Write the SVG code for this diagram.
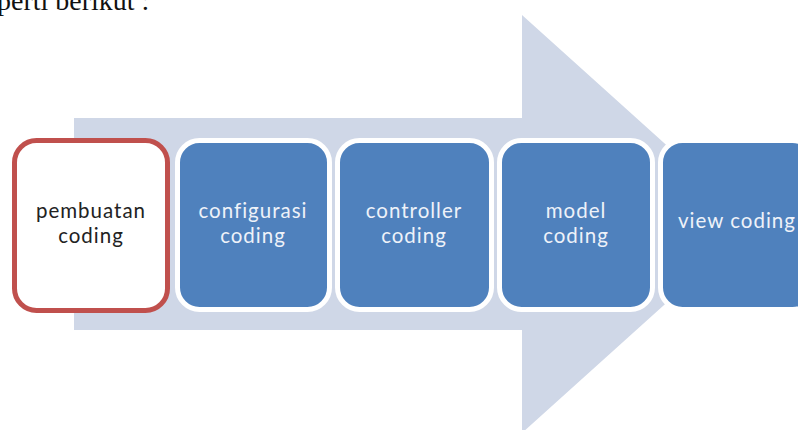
<svg xmlns="http://www.w3.org/2000/svg" width="798" height="430" viewBox="0 0 798 430">
<style>
.lbl{font-family:Lato,"Open Sans","Liberation Sans",sans-serif;font-size:20.5px;letter-spacing:1px;text-anchor:middle;fill:#eef2f9}
.dark{fill:#222}
.step{fill:#4f81bd;stroke:#ffffff;stroke-width:5}
</style>
<rect width="798" height="430" fill="#ffffff"/>
<text x="-3" y="10" font-family="'Liberation Serif',serif" font-size="28" fill="#111">perti berikut :</text>
<g id="arrow">
<polygon points="74,118 522,118 522,15 754,224 522,433 522,330 74,330" fill="#cfd7e7"/>
</g>
<g id="connectors"></g>
<g id="n1">
<rect x="14.5" y="140.5" width="153" height="170" rx="22" fill="#ffffff" stroke="#c0504d" stroke-width="5"/>
<text class="lbl dark"><tspan x="91" y="218">pembuatan</tspan><tspan x="91" y="243">coding</tspan></text>
</g>
<g id="n2">
<rect class="step" x="177.5" y="140.5" width="152" height="169" rx="22"/>
<text class="lbl"><tspan x="253" y="218">configurasi</tspan><tspan x="253" y="243">coding</tspan></text>
</g>
<g id="n3">
<rect class="step" x="337.5" y="140.5" width="154" height="169" rx="22"/>
<text class="lbl"><tspan x="414" y="218">controller</tspan><tspan x="414" y="243">coding</tspan></text>
</g>
<g id="n4">
<rect class="step" x="499.5" y="140.5" width="153" height="169" rx="22"/>
<text class="lbl"><tspan x="576" y="218">model</tspan><tspan x="576" y="243">coding</tspan></text>
</g>
<g id="n5">
<rect class="step" x="660.5" y="140.5" width="154" height="169" rx="22"/>
<text class="lbl" x="737" y="228">view coding</text>
</g>
</svg>
